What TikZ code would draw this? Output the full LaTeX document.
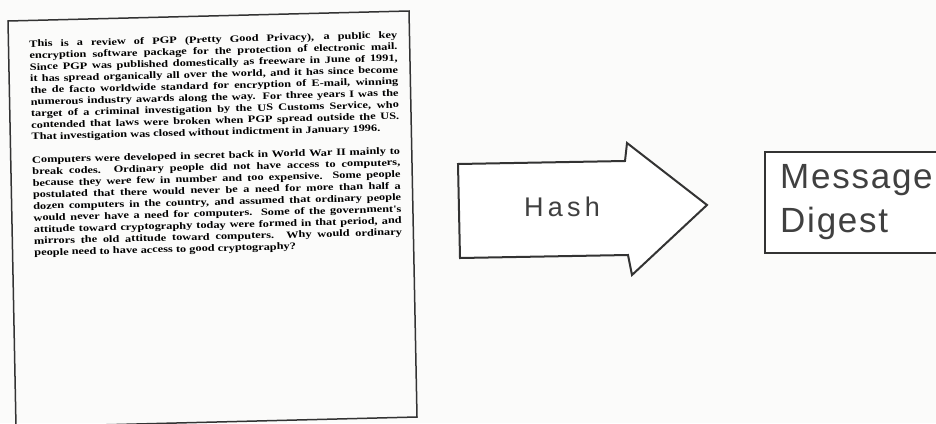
\documentclass[tikz,border=0pt]{standalone}
\usepackage{fontspec}
\setmainfont{Liberation Serif}
\newfontfamily\labelfont{Liberation Sans}
\newfontfamily\docfont[FakeStretch=1.26]{Liberation Serif}
\definecolor{scanbg}{HTML}{FBFBFA}
\definecolor{ink}{HTML}{333333}
\definecolor{lblink}{HTML}{404040}
\tikzset{
  pageframe/.style={draw=ink, line width=1.5pt},
  hasharrow/.style={draw=ink, line width=2pt, fill=white, line join=miter},
  digestbox/.style={draw=ink, line width=2.6pt, fill=white},
  doctext/.style={anchor=north west, inner sep=0pt, text width=368pt, align=justify,
    text=black, font=\docfont\bfseries\fontsize{9.8}{11.6}\selectfont},
  bigsans/.style={text=lblink, inner sep=0pt},
}
\begin{document}
\begin{tikzpicture}[x=1pt,y=-1pt]
\useasboundingbox (0,0) rectangle (936,423);
\fill[scanbg] (0,0) rectangle (936,423);
\clip (0,0) rectangle (936,423);
% page
\draw[pageframe] (8,21) -- (409,11) -- (417,417) -- (16,427) -- cycle;
\node[doctext, rotate=1.4] (doc) at (29,40) {%
This is a review of PGP (Pretty Good Privacy), a public key\linebreak
encryption software package for the protection of electronic mail.\linebreak
Since PGP was published domestically as freeware in June of 1991,\linebreak
it has spread organically all over the world, and it has since become\linebreak
the de facto worldwide standard for encryption of E-mail, winning\linebreak
numerous industry awards along the way. For three years I was the\linebreak
target of a criminal investigation by the US Customs Service, who\linebreak
contended that laws were broken when PGP spread outside the US.\linebreak
That investigation was closed without indictment in January 1996.\par
\vskip 11.6pt
Computers were developed in secret back in World War II mainly to\linebreak
break codes. Ordinary people did not have access to computers,\linebreak
because they were few in number and too expensive. Some people\linebreak
postulated that there would never be a need for more than half a\linebreak
dozen computers in the country, and assumed that ordinary people\linebreak
would never have a need for computers. Some of the government's\linebreak
attitude toward cryptography today were formed in that period, and\linebreak
mirrors the old attitude toward computers. Why would ordinary\linebreak
people need to have access to good cryptography?};
% hash arrow
\draw[hasharrow] (458,164) -- (625,161) -- (627,143) -- (707,205) -- (632,275) -- (628,255) -- (460,258) -- cycle;
\node[bigsans, font=\labelfont\fontsize{27}{32}\selectfont\addfontfeature{LetterSpace=16}] (hash) at (562,207) {Hash};
% digest box
\draw[digestbox] (765,152) rectangle (960,253);
\node[bigsans, anchor=base west, font=\labelfont\fontsize{35}{44}\selectfont\addfontfeature{LetterSpace=5}] (digestA) at (780,188) {Message};
\node[bigsans, anchor=base west, font=\labelfont\fontsize{35}{44}\selectfont\addfontfeature{LetterSpace=5}] (digestB) at (780,232) {Digest};
\end{tikzpicture}
\end{document}
